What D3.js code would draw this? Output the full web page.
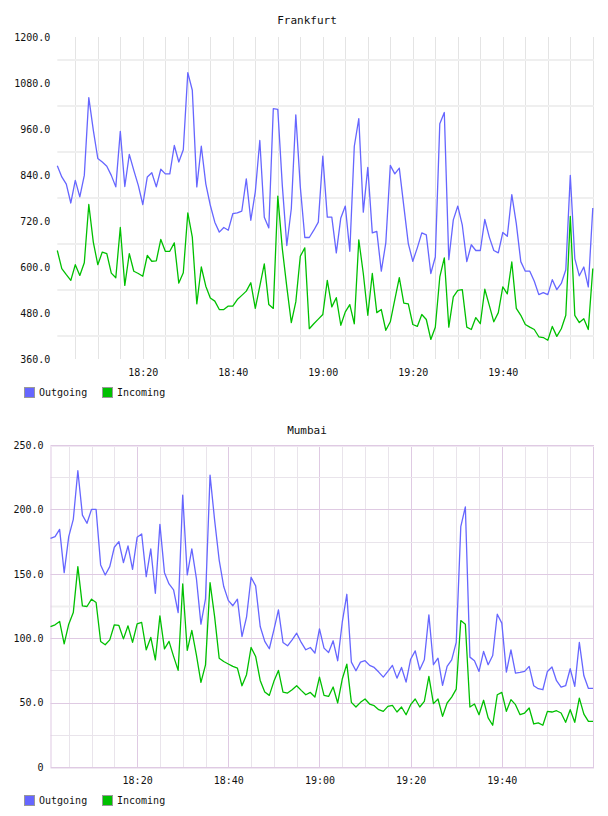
<!DOCTYPE html>
<html>
<head>
<meta charset="utf-8">
<script src="https://cdn.jsdelivr.net/npm/d3@7"></script>
<style>
  body { margin: 0; background: #fff; }
  text { font-family: "DejaVu Sans Mono", monospace; fill: #111; }
</style>
</head>
<body>
<div id="chart"></div>
<script>
// One sample per minute, 18:01 .. 20:00
const startTime = new Date(2020, 0, 1, 18, 1);
const endTime = new Date(2020, 0, 1, 20, 0);
const times = d3.timeMinute.range(startTime, d3.timeMinute.offset(endTime, 1));

const seriesNames = ["Outgoing", "Incoming"];
const seriesColors = ["#6666ff", "#00c000"];

const frankfurtOut = [864,835,816,767,826,783,839,1042,957,883,874,863,839,809,954,810,894,852,813,763,
  835,846,809,855,843,843,917,874,906,1107,1061,809,915,817,761,717,691,703,696,739,
  741,746,830,722,796,930,730,702,1013,1011,813,656,752,997,809,677,677,696,717,889,
  730,730,637,728,759,641,915,987,743,860,689,693,589,663,865,843,858,759,661,615,
  650,689,684,583,626,974,1003,619,723,759,709,614,658,643,643,724,678,643,637,690,
  680,789,713,614,589,589,563,528,533,528,567,541,557,593,839,622,577,600,548,754];
const frankfurtIn = [643,596,580,565,606,578,611,763,665,606,639,635,584,572,703,552,635,589,583,576,
  630,615,616,672,641,641,663,558,585,741,678,504,600,550,519,511,489,489,498,498,
  515,526,537,559,492,550,608,502,492,785,648,548,455,509,628,650,439,452,464,476,
  565,496,520,448,483,502,452,671,583,474,583,481,489,435,457,515,572,506,504,450,
  445,476,463,411,443,574,624,443,522,539,541,443,437,468,452,542,500,457,481,548,
  530,613,492,474,450,443,437,418,416,409,445,419,439,474,732,474,455,465,437,596];

const mumbaiOut = [177.5,178.8,184.5,150.9,178.8,192.3,230,195.6,189.2,200,200,156.9,149.1,155.6,170.6,175,158.7,171.6,153.5,178.3,
  180.9,147.8,169.3,134.9,188.4,150.9,142.1,137.5,119.9,211.1,149.1,169.3,146.5,110.9,130.5,226.6,191.7,160.7,140.1,129.4,
  125.2,130.3,101.3,116.3,147.3,140.6,109.1,97.5,91.8,106.5,122,96.7,94.1,98.7,103.9,96.7,91,92.8,88.4,107.3,
  92.3,88.9,98,82.5,112.4,134.1,81.4,74.7,81.4,82.5,78.9,77.3,73.7,69.8,74.2,78.9,69,77.3,65.9,83.7,
  90.2,75.5,83.2,118.1,79.4,84.5,63.4,78.1,83.2,96.7,186.6,202,85.3,82.5,74.2,89.7,79.4,86.6,118.6,111.7,
  73.7,91,72.9,73.4,74.2,78.1,63.1,60.8,60,74.2,77.6,67,62.1,63.1,76.3,62.6,96.7,70.8,61,61];
const mumbaiIn = [109,110.4,113,95.6,110.9,119.9,155.6,125.1,124.6,130.3,127.7,97.5,94.9,98.7,110.4,109.9,99.5,109.6,96.7,111.1,
  112.2,91,100.6,83.2,117.3,91.7,97.5,85.9,75,142.1,90.5,106,87.1,65.7,79.3,143.2,116.8,84.5,81.9,80,
  78.1,76.8,63.1,71.7,92.8,85.8,67.2,58.2,55.6,66.5,75,58.2,57.4,60,63.1,59.5,56.1,57.9,54.3,69.8,
  55.6,54.8,62.1,49.7,68.3,79.9,50.2,46.6,50.2,52.8,48.9,47.6,44.5,43.2,47.1,47.9,42.7,46.6,40.6,48.4,
  52.8,46.6,51,70.3,49.2,52.8,39.3,49.7,54.3,60.5,113.7,110.9,46.6,48.9,40.6,51.8,38.1,32.4,56.1,57.9,
  43.2,52.3,48.4,40.6,41.9,45.8,33.4,34.2,32.4,43.2,42.7,43.7,41.9,34.7,44.5,34.7,53.5,41.1,35.4,35.4];

const frankfurtTicks = [360, 480, 600, 720, 840, 960, 1080, 1200];
const mumbaiTicks = [0, 50, 100, 150, 200, 250];
const timeTicks = ["18:20", "18:40", "19:00", "19:20", "19:40"];

const svg = d3.select("#chart").append("svg")
    .attr("width", 608)
    .attr("height", 816);

const parseHM = d3.timeParse("%H:%M");
const tickDates = timeTicks.map(s => {
    const t = parseHM(s);
    return new Date(2020, 0, 1, t.getHours(), t.getMinutes());
});

function drawChart(opt) {
    const g = svg.append("g");

    const x = d3.scaleTime()
        .domain([startTime, endTime])
        .range([opt.left, opt.right]);
    const y = d3.scaleLinear()
        .domain(opt.yDomain)
        .range([opt.bottom, opt.top]);

    const fmt = d => d === 0 ? "0" : d3.format(".1f")(d);
    const every5 = d3.timeMinute.every(5).range(d3.timeMinute.offset(startTime, 1), d3.timeMinute.offset(endTime, 1));
    const yStep = opt.yTicks[1] - opt.yTicks[0];
    const halfTicks = opt.yTicks.slice(0, -1).map(v => v + yStep / 2);

    if (opt.style === "grey") {
        // vertical minute lines
        g.selectAll(".vgrid").data(every5).enter().append("line")
            .attr("x1", d => Math.round(x(d)) + 0.5).attr("x2", d => Math.round(x(d)) + 0.5)
            .attr("y1", opt.top).attr("y2", opt.bottom)
            .attr("stroke", "#e4e4e4");
        g.selectAll(".hgrid").data(halfTicks).enter().append("line")
            .attr("x1", opt.left).attr("x2", opt.right + 1)
            .attr("y1", d => Math.round(y(d))).attr("y2", d => Math.round(y(d)))
            .attr("stroke", "#efefef").attr("stroke-width", 2);
    } else {
        const isMajor = d => tickDates.some(t => +t === +d) || +d === +endTime;
        g.selectAll(".vgrid").data(every5).enter().append("line")
            .attr("x1", d => Math.round(x(d)) + 0.5).attr("x2", d => Math.round(x(d)) + 0.5)
            .attr("y1", opt.top).attr("y2", opt.bottom)
            .attr("stroke", d => isMajor(d) ? "#dfcae3" : "#e9e4eb");
        g.selectAll(".hminor").data(halfTicks).enter().append("line")
            .attr("x1", opt.left).attr("x2", opt.right)
            .attr("y1", d => Math.round(y(d)) + 0.5).attr("y2", d => Math.round(y(d)) + 0.5)
            .attr("stroke", d => d === 125 ? "#efefef" : "#e9e4eb")
            .attr("stroke-width", d => d === 125 ? 2 : 1);
        g.selectAll(".hmajor").data(opt.yTicks.slice(1, -1)).enter().append("line")
            .attr("x1", opt.left).attr("x2", opt.right)
            .attr("y1", d => Math.round(y(d)) + 0.5).attr("y2", d => Math.round(y(d)) + 0.5)
            .attr("stroke", "#dfcae3");
        // frame
        g.append("rect")
            .attr("x", opt.left + 0.5).attr("y", opt.top + 0.5)
            .attr("width", opt.right - opt.left).attr("height", opt.bottom - opt.top)
            .attr("fill", "none").attr("stroke", "#dfcae3");
        [opt.top, opt.bottom].forEach(v => g.append("line")
            .attr("x1", opt.left).attr("x2", opt.right + 1)
            .attr("y1", v + 1.5).attr("y2", v + 1.5)
            .attr("stroke", "#f0e8f2"));
    }

    // y labels
    g.append("g")
        .attr("transform", `translate(${opt.left - opt.labelGap},0)`)
        .call(d3.axisLeft(y).tickValues(opt.yTicks).tickSize(0).tickPadding(0).tickFormat(fmt))
        .call(a => a.select(".domain").remove())
        .selectAll("text")
        .style("font-family", "DejaVu Sans Mono, monospace")
        .style("font-size", "10px")
        .attr("fill", "#111");

    // x labels
    g.append("g")
        .attr("transform", `translate(0,${opt.bottom + 10})`)
        .call(d3.axisBottom(x).tickValues(tickDates).tickSize(0).tickPadding(0).tickFormat(d3.timeFormat("%H:%M")))
        .call(a => a.select(".domain").remove())
        .selectAll("text")
        .style("font-family", "DejaVu Sans Mono, monospace")
        .style("font-size", "10px")
        .attr("fill", "#111");

    // title
    g.append("text")
        .attr("x", 307).attr("y", opt.titleY)
        .attr("text-anchor", "middle")
        .style("font-size", "11px")
        .text(opt.title);

    // lines
    const line = d3.line()
        .x((d, i) => x(times[i]))
        .y(d => y(d));
    opt.series.forEach((s, k) => {
        g.append("path")
            .datum(s)
            .attr("fill", "none")
            .attr("stroke", seriesColors[k])
            .attr("stroke-width", 1.3)
            .attr("stroke-linejoin", "round")
            .attr("d", line);
    });

    // legend
    const leg = g.append("g").attr("transform", `translate(24,${opt.legendY})`);
    const offsets = [0, 78];
    seriesNames.forEach((name, k) => {
        leg.append("rect")
            .attr("x", offsets[k] + 0.5).attr("y", 0.5)
            .attr("width", 10).attr("height", 10)
            .attr("fill", seriesColors[k])
            .attr("stroke", "#999");
        leg.append("text")
            .attr("x", offsets[k] + 15).attr("y", 5.5)
            .attr("dy", "0.35em")
            .style("font-size", "10px")
            .text(name);
    });
}

drawChart({
    title: "Frankfurt", titleY: 24,
    left: 57.3, right: 592.8, top: 37, bottom: 359,
    yDomain: [360, 1200], yTicks: frankfurtTicks,
    labelGap: 7, style: "grey", legendY: 387,
    series: [frankfurtOut, frankfurtIn]
});

drawChart({
    title: "Mumbai", titleY: 434,
    left: 50.5, right: 593, top: 445, bottom: 767,
    yDomain: [0, 250], yTicks: mumbaiTicks,
    labelGap: 7, style: "purple", legendY: 795,
    series: [mumbaiOut, mumbaiIn]
});
</script>
</body>
</html>
